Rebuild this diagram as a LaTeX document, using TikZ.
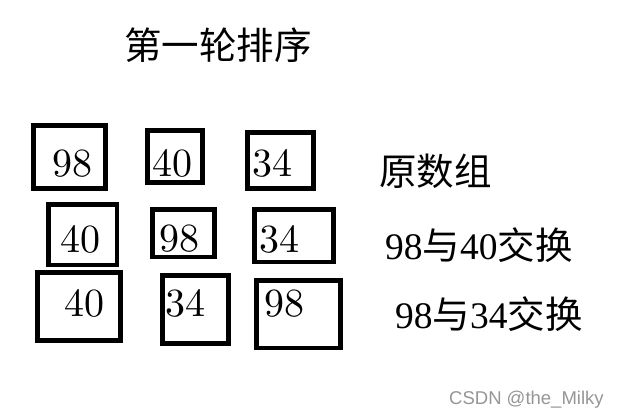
\documentclass[tikz,border=0pt]{standalone}
\usepackage{fontspec}
\setmainfont{Liberation Serif}
\newfontfamily\cjk{Noto Sans CJK SC}
\newfontfamily\wmfont{Liberation Sans}
\newfontfamily\digitfont{lmroman10-regular.otf}
\begin{document}
\begin{tikzpicture}[x=1pt,y=-1pt,
  numbox/.style={draw=black, line width=4.5pt, rectangle, inner sep=0pt},
  num/.style={inner sep=0pt, font=\digitfont\fontsize{40}{40}\selectfont},
  lbl/.style={inner sep=0pt, anchor=west, font=\fontsize{37.5}{37.5}\selectfont}]
\useasboundingbox[fill=white] (0,0) rectangle (618,416);
% title
\node[lbl] (title) at (124,45) {\cjk 第一轮排序};
% row 1
\node[numbox, minimum width=72.2pt, minimum height=63.2pt] (a) at (69.35,156.85) {};
\node[numbox, minimum width=54.9pt, minimum height=51.9pt] (b) at (175,156.5) {};
\node[numbox, minimum width=65.9pt, minimum height=56.2pt] (c) at (280.5,160.35) {};
\node[num] (ta) at (72,163.5) {98};
\node[num] (tb) at (172.5,163.5) {40};
\node[num] (tc) at (272.5,163.5) {34};
% row 2
\node[numbox, minimum width=68.5pt, minimum height=60.8pt] (d) at (82.5,234.65) {};
\node[numbox, minimum width=62.2pt, minimum height=47.5pt] (e) at (183.35,233.3) {};
\node[numbox, minimum width=78.9pt, minimum height=52.2pt] (f) at (294,235.65) {};
\node[num] (td) at (80,239) {40};
\node[num] (te) at (179,239) {98};
\node[num] (tf) at (279.3,239) {34};
% row 3
\node[numbox, minimum width=83.2pt, minimum height=68.2pt] (g) at (78.85,306.35) {};
\node[numbox, minimum width=66.2pt, minimum height=67.9pt] (h) at (195.35,309.5) {};
\node[numbox, minimum width=83.9pt, minimum height=67.2pt] (i) at (298.5,314.15) {};
\node[num] (tg) at (84.5,303.5) {40};
\node[num] (th) at (185,303.5) {34};
\node[num] (ti) at (284.5,303.5) {98};
% labels
\node[lbl] (l1) at (379,171) {\cjk 原数组};
\node[lbl] (l2) at (385,245) {98{\cjk 与}40{\cjk 交换}};
\node[lbl] (l3) at (395,314) {98{\cjk 与}34{\cjk 交换}};
% watermark
\node[inner sep=0pt, anchor=base west, text={rgb,255:red,150;green,150;blue,150}, font=\wmfont\fontsize{18.5}{18.5}\selectfont] (wm) at (449,404) {CSDN @the\_Milky};
\end{tikzpicture}
\end{document}
